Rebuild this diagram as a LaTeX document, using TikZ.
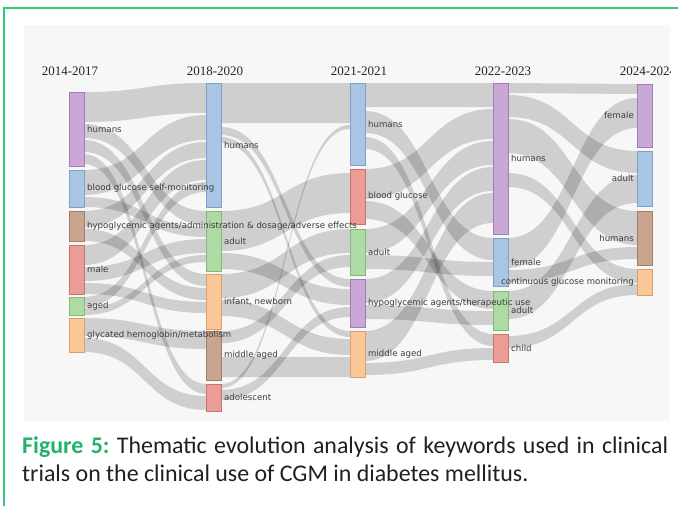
\documentclass[tikz,border=0pt]{standalone}
\usepackage{fontspec}
\setmainfont{Liberation Serif}
\newfontfamily\lblfont{DejaVu Sans}
\newfontfamily\capfont{Carlito}
\usetikzlibrary{calc}
\pgfdeclarelayer{panel}\pgfdeclarelayer{flows}
\pgfsetlayers{panel,flows,main}
\definecolor{panelbg}{HTML}{F7F7F7}
\definecolor{framegreen}{HTML}{2FCB78}
\definecolor{figgreen}{HTML}{22B36A}
\definecolor{captxt}{HTML}{231F20}
\definecolor{lbltxt}{HTML}{3C3C3C}
\definecolor{purF}{HTML}{C9A8D8}\definecolor{purD}{HTML}{A07CB8}
\definecolor{bluF}{HTML}{A9C5E4}\definecolor{bluD}{HTML}{7FA0C8}
\definecolor{broF}{HTML}{C9A48E}\definecolor{broD}{HTML}{A07E6A}
\definecolor{redF}{HTML}{EB9C96}\definecolor{redD}{HTML}{C8746E}
\definecolor{greF}{HTML}{AEDBA3}\definecolor{greD}{HTML}{82B878}
\definecolor{oraF}{HTML}{FBC796}\definecolor{oraD}{HTML}{D8A06A}
\tikzset{
  nbox/.style={draw, line width=0.6pt, minimum width=15pt, inner sep=0pt, outer sep=0pt, anchor=north west},
  lbl/.style={font=\lblfont\fontsize{8.6}{10}\selectfont, text=lbltxt, inner sep=0pt},
  hdr/.style={font=\fontsize{13}{15}\selectfont, text=black!85, inner sep=0pt, anchor=base},
  band/.style={fill=black, fill opacity=0.16},
  captext/.style={anchor=base west, inner sep=0pt, font=\capfont\fontsize{23.9}{28}\selectfont, text=captxt},
}
% node: name, x, ytop, height, colour prefix
\newcommand\nd[5]{\node[nbox, fill=#5F, draw=#5D, minimum height=#4pt] (#1) at (#2,#3) {};}
% flow: src, src top off, src bot off, tgt, tgt top off, tgt bot off
\newcommand\flow[6]{%
  \begin{pgfonlayer}{flows}
  \path ([yshift=-#2pt]#1.north east) coordinate (fa)
        ([yshift=-#3pt]#1.north east) coordinate (fb)
        ([yshift=-#5pt]#4.north west) coordinate (fc)
        ([yshift=-#6pt]#4.north west) coordinate (fd);
  \path ($(fa)!0.5!(fc)$) coordinate (fm);
  \fill[band] (fa) .. controls (fm|-fa) and (fm|-fc) .. (fc) -- (fd)
     .. controls (fm|-fd) and (fm|-fb) .. (fb) -- cycle;
  \end{pgfonlayer}}
\begin{document}
\begin{tikzpicture}[x=1pt,y=-1pt]
\useasboundingbox (0,0) rectangle (678,506);
\begin{pgfonlayer}{panel}
\fill[white] (0,0) rectangle (678,506);
\fill[panelbg] (24,25) rectangle (670,421);
\end{pgfonlayer}
\draw[framegreen, line width=1.2pt] (4,506) |- (678,8);
% headers
\begin{scope}
\clip (24,25) rectangle (670,421);
\node[hdr] (t1) at (70,75) {2014-2017};
\node[hdr] (t2) at (215,75) {2018-2020};
\node[hdr] (t3) at (359,75) {2021-2021};
\node[hdr] (t4) at (503,75) {2022-2023};
\node[hdr] (t5) at (648,75) {2024-2024};
\end{scope}
% column 1
\nd{h1}{69}{92}{74}{pur}
\nd{b1}{69}{170}{37}{blu}
\nd{y1}{69}{211}{30}{bro}
\nd{m1}{69}{245}{49}{red}
\nd{a1}{69}{297}{18}{gre}
\nd{g1}{69}{318}{34}{ora}
% column 2
\nd{h2}{206}{83}{124}{blu}
\nd{d2}{206}{211}{60}{gre}
\nd{i2}{206}{274}{55}{ora}
\nd{m2}{206}{331}{49}{bro}
\nd{l2}{206}{384}{27}{red}
% column 3
\nd{h3}{350}{83}{82}{blu}
\nd{r3}{350}{169}{55}{red}
\nd{d3}{350}{229}{46}{gre}
\nd{p3}{350}{279}{48}{pur}
\nd{o3}{350}{331}{46}{ora}
% column 4
\nd{h4}{493}{83}{151}{pur}
\nd{f4}{493}{238}{48}{blu}
\nd{a4}{493}{291}{39}{gre}
\nd{c4}{493}{334}{28}{red}
% column 5
\nd{fe5}{637}{84}{63}{pur}
\nd{ad5}{637}{151}{55}{blu}
\nd{hu5}{637}{211}{54}{bro}
\nd{cg5}{637}{269}{26}{ora}
% flows 1 -> 2
\flow{h1}{0}{30}{h2}{0}{30}
\flow{b1}{0}{25}{h2}{32}{57}
\flow{y1}{0}{16}{h2}{59}{75}
\flow{m1}{0}{20}{h2}{77}{97}
\flow{a1}{0}{10}{h2}{99}{109}
\flow{h1}{32}{46}{d2}{0}{14}
\flow{b1}{27}{37}{d2}{16}{26}
\flow{m1}{22}{36}{d2}{28}{42}
\flow{a1}{11}{18}{d2}{44}{51}
\flow{h1}{48}{60}{i2}{0}{12}
\flow{y1}{18}{30}{i2}{14}{26}
\flow{m1}{38}{49}{i2}{28}{39}
\flow{g1}{0}{18}{m2}{0}{18}
\flow{h1}{62}{72}{l2}{0}{10}
\flow{g1}{20}{34}{l2}{12}{26}
% flows 2 -> 3
\flow{h2}{0}{40}{h3}{0}{40}
\flow{l2}{0}{4}{h3}{42}{46}
\flow{d2}{0}{40}{r3}{4}{44}
\flow{h2}{44}{52}{p3}{0}{8}
\flow{d2}{42}{58}{p3}{10}{26}
\flow{i2}{0}{24}{d3}{0}{24}
\flow{m2}{0}{12}{d3}{26}{38}
\flow{h2}{54}{60}{o3}{0}{6}
\flow{i2}{26}{42}{o3}{8}{24}
\flow{m2}{26}{46}{o3}{26}{46}
\flow{l2}{6}{16}{p3}{28}{38}
% flows 3 -> 4
\flow{h3}{0}{24}{h4}{0}{24}
\flow{r3}{0}{30}{h4}{26}{56}
\flow{d3}{0}{24}{h4}{58}{82}
\flow{p3}{0}{24}{h4}{84}{108}
\flow{o3}{0}{30}{h4}{110}{140}
\flow{h3}{28}{50}{f4}{0}{22}
\flow{d3}{26}{40}{f4}{24}{38}
\flow{r3}{32}{50}{a4}{0}{18}
\flow{p3}{26}{40}{a4}{20}{34}
\flow{h3}{54}{66}{c4}{0}{12}
\flow{o3}{32}{44}{c4}{14}{26}
% flows 4 -> 5
\flow{h4}{0}{10}{fe5}{0}{10}
\flow{h4}{12}{34}{ad5}{0}{22}
\flow{h4}{36}{70}{hu5}{0}{34}
\flow{h4}{90}{104}{cg5}{0}{14}
\flow{f4}{0}{30}{fe5}{14}{44}
\flow{f4}{32}{44}{hu5}{36}{48}
\flow{a4}{0}{28}{ad5}{24}{52}
\flow{c4}{2}{14}{cg5}{15}{26}
% labels
\node[lbl, anchor=west] (h1l) at ([xshift=3pt]h1.east) {humans};
\node[lbl, anchor=west] (b1l) at ([xshift=3pt]b1.east) {blood glucose self-monitoring};
\node[lbl, anchor=west] (y1l) at ([xshift=3pt]y1.east) {hypoglycemic agents/administration \& dosage/adverse effects};
\node[lbl, anchor=west] (m1l) at ([xshift=3pt]m1.east) {male};
\node[lbl, anchor=west] (a1l) at ([xshift=3pt]a1.east) {aged};
\node[lbl, anchor=west] (g1l) at ([xshift=3pt]g1.east) {glycated hemoglobin/metabolism};
\node[lbl, anchor=west] (h2l) at ([xshift=3pt]h2.east) {humans};
\node[lbl, anchor=west] (d2l) at ([xshift=3pt]d2.east) {adult};
\node[lbl, anchor=west] (i2l) at ([xshift=3pt]i2.east) {infant, newborn};
\node[lbl, anchor=west] (m2l) at ([xshift=3pt]m2.east) {middle aged};
\node[lbl, anchor=west] (l2l) at ([xshift=3pt]l2.east) {adolescent};
\node[lbl, anchor=west] (h3l) at ([xshift=3pt]h3.east) {humans};
\node[lbl, anchor=west] (r3l) at ([xshift=3pt]r3.east) {blood glucose};
\node[lbl, anchor=west] (d3l) at ([xshift=3pt]d3.east) {adult};
\node[lbl, anchor=west] (p3l) at ([xshift=3pt]p3.east) {hypoglycemic agents/therapeutic use};
\node[lbl, anchor=west] (o3l) at ([xshift=3pt]o3.east) {middle aged};
\node[lbl, anchor=west] (h4l) at ([xshift=3pt]h4.east) {humans};
\node[lbl, anchor=west] (f4l) at ([xshift=3pt]f4.east) {female};
\node[lbl, anchor=west] (a4l) at ([xshift=3pt]a4.east) {adult};
\node[lbl, anchor=west] (c4l) at ([xshift=3pt]c4.east) {child};
\node[lbl, anchor=east] (fe5l) at ([xshift=-3pt]fe5.west) {female};
\node[lbl, anchor=east] (ad5l) at ([xshift=-3pt]ad5.west) {adult};
\node[lbl, anchor=east] (hu5l) at ([xshift=-3pt]hu5.west) {humans};
\node[lbl, anchor=east] (cg5l) at ([xshift=-3pt]cg5.west) {continuous glucose monitoring};
% caption
\node[captext] (cap1) at (22,453)
  {\makebox[646pt][s]{\textcolor{figgreen}{\bfseries Figure~5:}\ Thematic evolution analysis of keywords used in clinical}};
\node[captext] (cap2) at (22,481)
  {trials on the clinical use of CGM in diabetes mellitus.};
\end{tikzpicture}
\end{document}
